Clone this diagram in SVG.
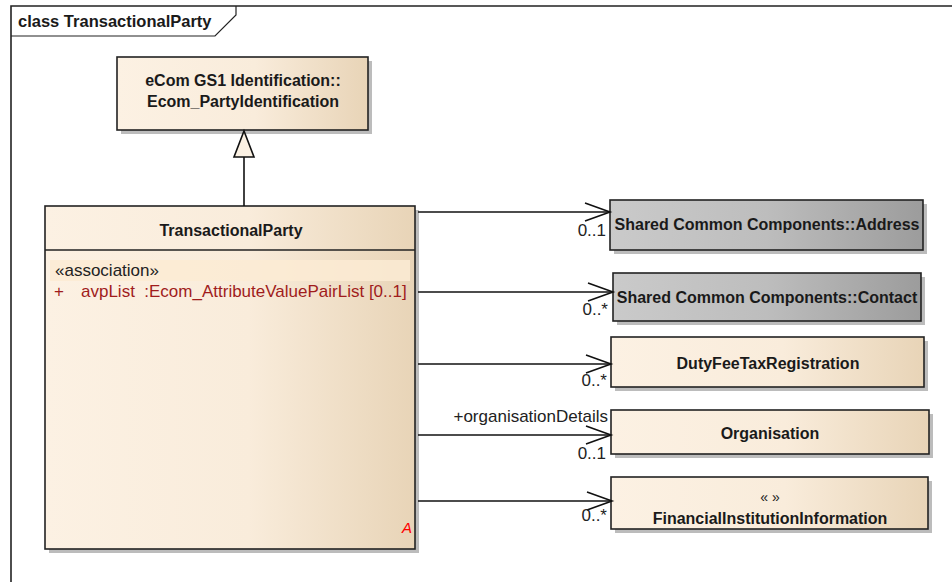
<svg xmlns="http://www.w3.org/2000/svg" width="952" height="582" viewBox="0 0 952 582">
<defs>
<linearGradient id="cream" x1="0" y1="0" x2="1" y2="0">
<stop offset="0" stop-color="#fcf1e3"/>
<stop offset="0.55" stop-color="#f9ecdb"/>
<stop offset="1" stop-color="#e8d4b7"/>
</linearGradient>
<linearGradient id="gray" x1="0" y1="0" x2="1" y2="0">
<stop offset="0" stop-color="#cacaca"/>
<stop offset="0.5" stop-color="#bdbdbd"/>
<stop offset="1" stop-color="#9c9c9c"/>
</linearGradient>
<marker id="open" viewBox="0 0 30 20" refX="26" refY="10" markerWidth="30" markerHeight="20" markerUnits="userSpaceOnUse" orient="auto">
<path d="M1,1 L26,10 L1,19" fill="none" stroke="#111" stroke-width="1.6"/>
</marker>
</defs>
<style>
.box{stroke:#222;stroke-width:1.6}
.shadow{fill:#bcbcbc}
.name{font-family:"Liberation Sans",Arial,sans-serif;font-weight:bold;font-size:16px;fill:#1a1a1a;text-anchor:middle}
.lbl{font-family:"Liberation Sans",Arial,sans-serif;font-size:17px;fill:#222}
.attr{font-family:"Liberation Sans",Arial,sans-serif;font-size:17px;fill:#a01c1c}
.conn{stroke:#111;stroke-width:1.6;fill:none}
</style>
<rect width="952" height="582" fill="#ffffff"/>
<g id="frame">
<path d="M11,582 L11,6 L952,6" fill="none" stroke="#222" stroke-width="1.6"/>
<path d="M11,36 L215,36 L236,15 L236,6" fill="none" stroke="#222" stroke-width="1.2"/>
<text x="18" y="27" class="name" style="text-anchor:start;font-size:16.5px">class TransactionalParty</text>
</g>
<g id="Ecom_PartyIdentification">
<rect x="121" y="61" width="251" height="73" class="shadow"/>
<rect x="117" y="57" width="251" height="73" fill="url(#cream)" class="box"/>
<text x="243" y="86" class="name">eCom GS1 Identification::</text>
<text x="243" y="107" class="name">Ecom_PartyIdentification</text>
</g>
<g id="TransactionalParty">
<rect x="49" y="210" width="370" height="343" class="shadow"/>
<rect x="45" y="206" width="370" height="343" fill="url(#cream)" class="box"/>
<line x1="45" y1="250" x2="415" y2="250" class="box"/>
<text x="231" y="236" class="name">TransactionalParty</text>
<rect x="50" y="260" width="360" height="21" fill="#fbebd4" opacity="0.85"/>
<text x="55" y="276" class="lbl">«association»</text>
<text x="54" y="297" class="attr">+</text>
<text x="81" y="297" class="attr" xml:space="preserve">avpList  :Ecom_AttributeValuePairList [0..1]</text>
<text x="402" y="533" font-family="Liberation Sans, Arial, sans-serif" font-size="15" font-style="italic" fill="#ff0000">A</text>
</g>
<g id="Address">
<rect x="614" y="204" width="313" height="50" class="shadow"/>
<rect x="610" y="200" width="313" height="50" fill="url(#gray)" class="box"/>
<text x="767" y="230" class="name">Shared Common Components::Address</text>
</g>
<g id="Contact">
<rect x="617" y="277" width="308" height="48" class="shadow"/>
<rect x="613" y="273" width="308" height="48" fill="url(#gray)" class="box"/>
<text x="767" y="303" class="name">Shared Common Components::Contact</text>
</g>
<g id="DutyFeeTaxRegistration">
<rect x="615" y="341" width="313" height="50" class="shadow"/>
<rect x="611" y="337" width="313" height="50" fill="url(#cream)" class="box"/>
<text x="768" y="369" class="name">DutyFeeTaxRegistration</text>
</g>
<g id="Organisation">
<rect x="615" y="414" width="318" height="44" class="shadow"/>
<rect x="611" y="410" width="318" height="44" fill="url(#cream)" class="box"/>
<text x="770" y="439" class="name">Organisation</text>
</g>
<g id="FinancialInstitutionInformation">
<rect x="615" y="481" width="317" height="52" class="shadow"/>
<rect x="611" y="477" width="317" height="52" fill="url(#cream)" class="box"/>
<text x="770" y="502" class="name" style="font-weight:normal;font-size:14px">« »</text>
<text x="770" y="524" class="name">FinancialInstitutionInformation</text>
</g>
<g id="connectors">
<line x1="244" y1="206" x2="244" y2="157" class="conn"/>
<path d="M244,131 L254,157 L234,157 Z" fill="#fbf1e3" stroke="#111" stroke-width="1.6"/>
<line x1="418" y1="212" x2="610" y2="212" class="conn" marker-end="url(#open)"/>
<text x="606" y="236" class="lbl" text-anchor="end">0..1</text>
<line x1="418" y1="292" x2="613" y2="292" class="conn" marker-end="url(#open)"/>
<text x="608" y="315" class="lbl" text-anchor="end">0..*</text>
<line x1="418" y1="364" x2="611" y2="364" class="conn" marker-end="url(#open)"/>
<text x="607" y="386" class="lbl" text-anchor="end">0..*</text>
<line x1="418" y1="435" x2="611" y2="435" class="conn" marker-end="url(#open)"/>
<text x="608" y="422" class="lbl" text-anchor="end">+organisationDetails</text>
<text x="606" y="459" class="lbl" text-anchor="end">0..1</text>
<line x1="418" y1="501" x2="612" y2="501" class="conn" marker-end="url(#open)"/>
<text x="607" y="521" class="lbl" text-anchor="end">0..*</text>
</g>
</svg>
